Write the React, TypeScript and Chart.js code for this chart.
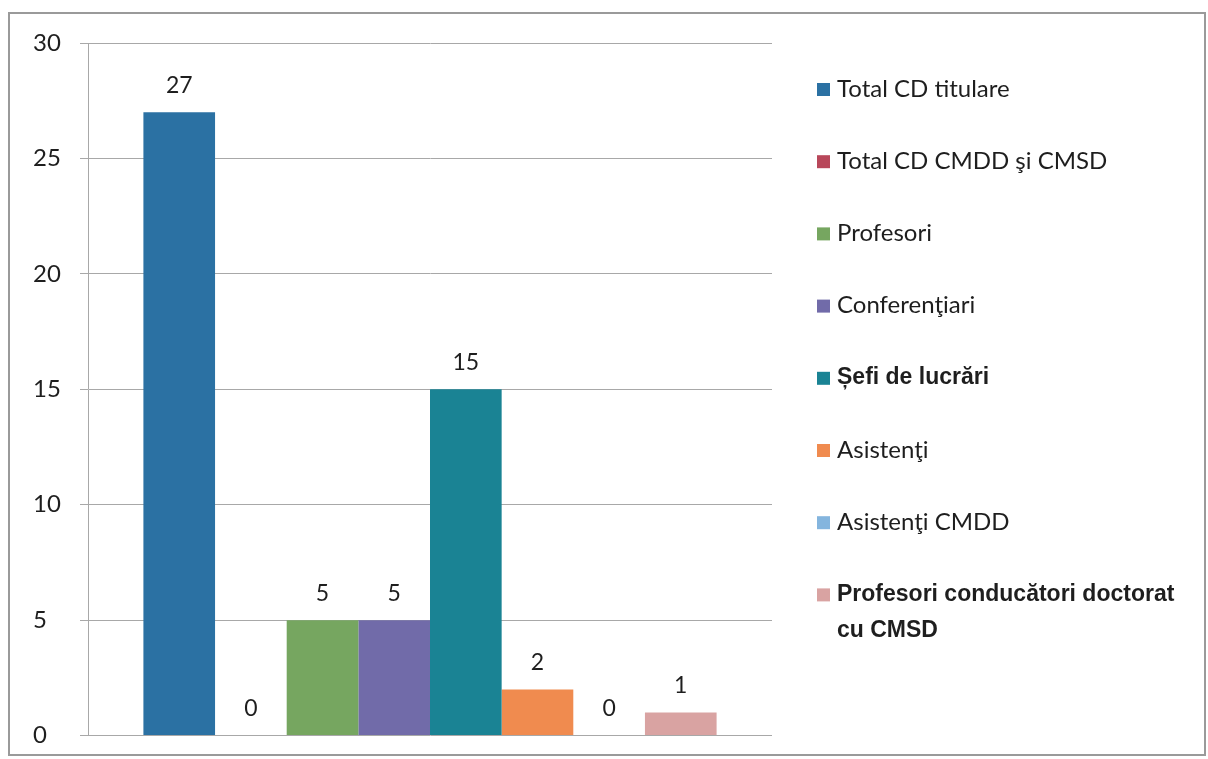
import React, { useEffect, useRef } from "react";
import { Chart, registerables } from "chart.js";

Chart.register(...registerables);

const categories = [""];
const seriesNames = [
  "Total CD titulare",
  "Total CD CMDD şi CMSD",
  "Profesori",
  "Conferenţiari",
  "Șefi de lucrări",
  "Asistenţi",
  "Asistenţi CMDD",
  "Profesori conducători doctorat cu CMSD",
];
const seriesValues = [27, 0, 5, 5, 15, 2, 0, 1];
const seriesColors = [
  "#2B71A3",
  "#B8475A",
  "#76A660",
  "#716BA9",
  "#1A8394",
  "#F08B4F",
  "#84B5DE",
  "#D9A3A2",
];
const legendBold = [false, false, false, false, true, false, false, true];
const yTicks = [0, 5, 10, 15, 20, 25, 30];

const TEXT = "#1e1e1e";

const valueLabelPlugin = {
  id: "valueLabels",
  afterDatasetsDraw(chart: any) {
    const ctx = chart.ctx;
    ctx.save();
    ctx.font = "23px Lato";
    ctx.fillStyle = TEXT;
    ctx.textAlign = "center";
    ctx.textBaseline = "middle";
    chart.data.datasets.forEach((ds: any, i: number) => {
      const meta = chart.getDatasetMeta(i);
      const el = meta.data[0];
      if (!el) return;
      ctx.fillText(String(ds.data[0]), el.x, el.y - 27);
    });
    ctx.restore();
  },
};

const customLegendPlugin = {
  id: "customLegend",
  afterDraw(chart: any) {
    const ctx = chart.ctx;
    const area = chart.chartArea;
    const boxX = area.right + 45;
    const textX = boxX + 20;
    const startY = 75;
    const step = 72.2;
    const maxW = 360;
    ctx.save();
    ctx.textBaseline = "middle";
    ctx.textAlign = "left";
    chart.data.datasets.forEach((ds: any, i: number) => {
      const y = startY + i * step;
      ctx.fillStyle = ds.backgroundColor;
      ctx.fillRect(boxX, y - 6, 13, 13);
      ctx.fillStyle = TEXT;
      ctx.font = legendBold[i] ? "bold 23px 'Liberation Sans'" : "24px Lato";
      const words = String(ds.label).split(" ");
      const lines: string[] = [];
      let cur = "";
      for (const w of words) {
        const test = cur ? cur + " " + w : w;
        if (ctx.measureText(test).width > maxW && cur) {
          lines.push(cur);
          cur = w;
        } else cur = test;
      }
      if (cur) lines.push(cur);
      lines.forEach((ln, k) => ctx.fillText(ln, textX, y + k * 36));
    });
    ctx.restore();
  },
};

export default function App() {
  const ref = useRef<HTMLCanvasElement | null>(null);
  useEffect(() => {
    if (!ref.current) return;
    const chart = new Chart(ref.current, {
      type: "bar",
      data: {
        labels: categories,
        datasets: seriesNames.map((name, i) => ({
          label: name,
          data: [seriesValues[i]],
          backgroundColor: seriesColors[i],
          borderWidth: 0,
          barPercentage: 1,
          categoryPercentage: 0.838,
        })),
      },
      options: {
        animation: false,
        responsive: false,
        layout: { padding: { top: 29, bottom: 10, left: 23, right: 432 } },
        plugins: {
          legend: { display: false },
          tooltip: { enabled: false },
        },
        scales: {
          x: { display: false },
          y: {
            min: 0,
            max: 30,
            afterFit: (s: any) => {
              s.width = 55;
            },
            afterBuildTicks: (s: any) => {
              s.ticks = yTicks.map((v) => ({ value: v }));
            },
            ticks: {
              font: { family: "Lato", size: 24 },
              color: TEXT,
              padding: 13,
              crossAlign: "far",
            },
            grid: {
              color: "#a8a8a8",
              lineWidth: 1,
              tickLength: 8,
              drawTicks: true,
            },
            border: { display: true, color: "#a8a8a8", width: 1 },
          },
        },
      },
      plugins: [valueLabelPlugin, customLegendPlugin],
    });
    return () => chart.destroy();
  }, []);
  return (
    <div
      style={{
        position: "fixed",
        left: 8,
        top: 12,
        width: 1194,
        height: 740,
        border: "2px solid #9a9a9a",
        background: "#fff",
        overflow: "hidden",
      }}
    >
      <canvas ref={ref} width={1194} height={749} style={{ display: "block" }} />
    </div>
  );
}
